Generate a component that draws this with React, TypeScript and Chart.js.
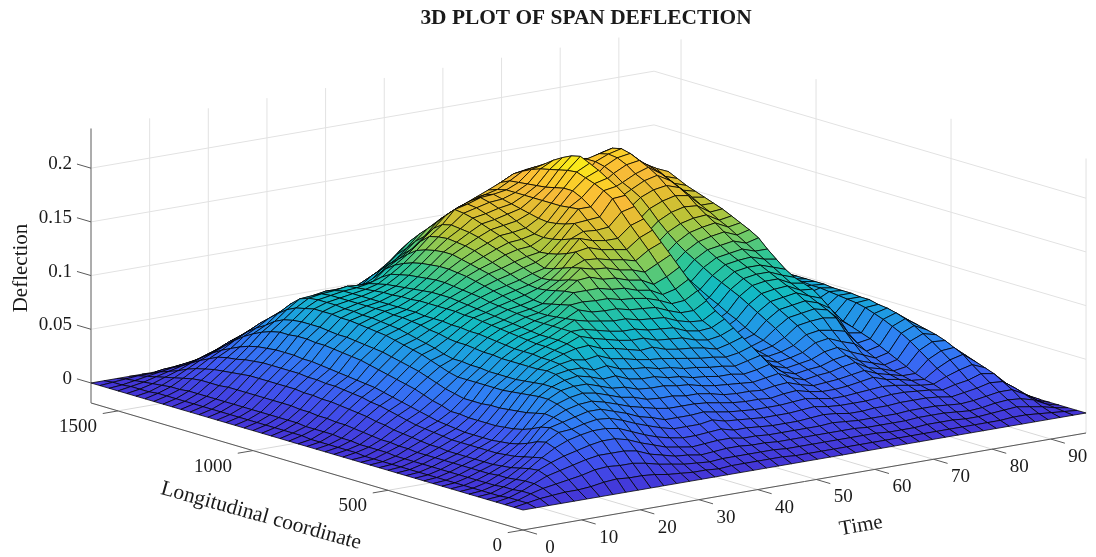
import React, { useEffect, useRef } from "react";
import { Chart, registerables } from "chart.js";
Chart.register(...registerables);

const titleText = "3D PLOT OF SPAN DEFLECTION";
const timeLabel = "Time";
const longLabel = "Longitudinal coordinate";
const zLabel = "Deflection";
const timeTicks = [0, 10, 20, 30, 40, 50, 60, 70, 80, 90];
const longTicks = [0, 500, 1000, 1500];
const zTicks = [0, 0.05, 0.1, 0.15, 0.2];
const zTickText = ["0", "0.05", "0.1", "0.15", "0.2"];
const timeMax = 96;
const longMax = 1600;
const zFloor = -0.0186;
const zTop = 0.237;

const timeGrid = [0,2.2,4.4,6.5,8.7,10.9,13.1,15.3,17.5,19.6,21.8,24,26.2,28.4,30.5,32.7,34.9,37.1,39.3,41.5,43.6,45.8,48,50.2,52.4,54.5,56.7,58.9,61.1,63.3,65.5,67.6,69.8,72,74.2,76.4,78.5,80.7,82.9,85.1,87.3,89.5,91.6,93.8,96];
const longGrid = [0,33,67,100,133,167,200,233,267,300,333,367,400,433,467,500,533,567,600,633,667,700,733,767,800,833,867,900,933,967,1000,1033,1067,1100,1133,1167,1200,1233,1267,1300,1333,1367,1400,1433,1467,1500,1533,1567,1600];

// deflection in thousandths; one row per time, one column per longitudinal coordinate
const deflection = [
[0,0,0,0,0,0,0,0,0,0,0,0,0,0,0,0,0,0,0,0,0,0,0,0,0,0,0,0,0,0,0,0,0,0,0,0,0,0,0,0,0,0,0,0,0,0,0,0,0],
[0,2,2,2,1,1,1,1,1,1,1,1,1,1,1,1,1,1,1,1,2,2,2,2,2,2,3,3,3,3,3,3,3,3,3,3,3,3,3,3,3,3,3,2,2,2,1,1,0],
[0,4,6,6,5,5,4,4,4,4,4,4,4,4,4,4,4,4,5,5,5,5,6,6,7,7,7,7,8,8,8,8,8,8,8,8,8,8,8,8,8,7,7,6,5,4,3,2,0],
[0,5,9,11,11,10,9,9,8,8,8,8,8,8,8,8,8,9,9,10,10,11,12,13,14,14,15,15,16,16,17,17,17,17,17,17,17,17,16,16,16,15,13,11,9,7,5,3,0],
[0,6,11,16,19,18,16,14,13,12,12,12,12,12,12,13,13,14,15,16,17,19,20,22,23,24,25,26,26,27,27,28,28,28,28,28,28,27,26,25,24,22,20,17,13,10,7,3,0],
[0,6,13,19,24,26,24,22,20,19,18,18,18,18,18,18,19,20,21,22,24,26,28,30,31,33,34,35,36,36,37,37,38,38,38,38,38,37,36,34,33,31,27,23,18,13,9,5,0],
[0,7,15,22,28,33,36,34,30,27,25,24,23,23,23,23,24,25,26,28,30,32,34,36,38,40,41,42,43,44,45,46,47,47,48,48,48,47,46,44,41,37,33,28,22,16,11,6,0],
[0,9,18,25,31,38,43,45,43,39,36,34,33,32,32,32,32,33,33,36,38,41,44,46,48,50,52,54,56,57,58,59,60,60,61,61,60,60,58,55,51,46,40,33,26,20,13,7,0],
[0,10,19,27,34,41,44,48,50,51,49,47,46,45,44,44,43,43,43,45,47,50,53,56,58,60,62,64,65,66,67,68,68,69,70,70,70,69,67,63,57,52,46,39,32,24,17,9,0],
[0,9,18,27,36,43,47,51,55,58,60,60,59,58,57,56,56,56,56,56,56,58,61,64,67,69,71,73,75,76,77,78,79,79,80,80,80,78,76,72,66,59,52,44,36,29,22,11,0],
[0,9,18,27,36,43,49,54,58,62,66,67,67,66,65,64,64,64,64,65,65,66,66,68,71,73,75,77,79,80,81,82,82,83,83,84,84,84,83,80,73,64,56,49,41,33,26,14,0],
[0,8,16,25,33,41,48,54,59,64,68,71,74,75,74,74,74,74,74,75,75,76,77,77,78,80,81,83,84,85,85,86,86,86,86,86,86,86,85,81,73,65,57,50,42,34,26,15,0],
[0,6,13,20,28,36,44,50,56,62,68,73,76,79,80,80,81,81,81,82,83,84,85,85,86,86,87,87,87,88,88,88,88,88,88,88,88,88,86,83,77,69,61,55,48,39,30,16,0],
[0,5,11,17,24,31,39,46,52,58,64,70,76,81,84,85,86,86,87,88,89,90,91,92,93,93,94,94,94,94,94,93,93,92,92,91,90,89,88,83,78,72,66,60,53,44,32,17,0],
[0,4,9,14,20,27,35,41,48,54,60,66,72,79,87,89,90,90,90,91,92,93,94,95,96,97,98,99,100,100,100,99,98,97,96,95,93,91,87,82,78,73,67,60,52,44,33,17,0],
[0,4,8,13,18,24,31,38,45,52,59,67,74,81,88,94,96,96,96,96,96,97,98,99,100,101,103,104,105,106,107,107,106,105,104,102,100,95,88,83,78,73,68,62,53,44,34,18,0],
[0,3,7,11,16,22,28,34,42,48,55,62,69,76,83,90,96,102,101,100,99,99,100,101,103,105,107,109,111,113,114,115,115,114,113,111,108,104,98,89,79,73,68,61,53,45,35,18,0],
[0,4,8,12,17,22,28,34,40,47,54,60,67,74,81,87,93,99,107,109,107,105,103,104,106,108,110,113,116,118,120,122,124,124,123,121,118,112,105,98,90,82,74,66,57,47,37,19,0],
[0,4,8,13,18,23,28,34,40,47,54,60,66,71,78,84,90,97,103,110,116,115,113,111,110,111,113,116,119,122,125,128,130,131,132,131,129,122,112,105,96,88,80,71,60,49,38,20,0],
[0,4,8,13,18,24,30,35,40,45,52,57,63,69,75,82,88,95,102,109,116,123,121,118,116,115,117,120,123,127,130,133,136,138,139,140,138,132,122,115,106,98,88,78,66,53,41,21,0],
[0,4,8,12,16,21,27,33,39,45,51,56,62,68,76,82,88,95,102,109,116,124,130,128,125,122,120,123,126,130,134,138,141,144,147,149,150,142,133,125,117,108,98,85,70,56,43,22,0],
[0,4,8,12,16,21,26,31,37,43,48,53,59,66,72,78,85,92,99,106,113,120,127,133,138,134,131,129,128,131,135,139,143,146,149,152,153,148,140,132,122,113,103,90,74,58,43,22,0],
[0,3,7,11,15,20,25,30,35,40,46,52,58,64,70,77,84,91,98,105,112,119,126,132,140,146,143,140,138,137,138,141,145,149,152,155,157,152,145,137,127,118,107,93,77,60,44,23,0],
[0,3,7,11,15,19,24,29,34,39,45,50,56,62,69,76,83,90,97,103,108,115,122,129,136,142,148,153,150,148,147,148,150,152,154,156,158,155,150,141,131,122,110,96,79,61,44,23,0],
[0,3,7,11,15,19,24,29,34,39,44,50,55,61,67,72,78,85,92,99,106,113,120,127,134,140,147,154,162,161,160,160,160,160,160,160,160,158,155,145,135,125,113,99,82,63,45,23,0],
[0,3,7,11,15,19,24,29,33,38,43,48,53,59,64,70,76,82,88,94,100,107,116,124,132,140,148,155,162,168,172,172,170,168,167,166,165,164,160,150,139,128,117,102,85,65,46,24,0],
[0,3,7,11,15,20,25,30,35,40,45,50,56,61,67,72,77,81,88,95,103,112,122,132,141,150,160,170,175,179,182,185,184,182,180,178,175,171,166,158,150,137,123,107,88,67,47,24,0],
[0,3,7,11,16,21,26,31,36,41,47,53,59,65,71,77,83,88,95,102,110,119,128,137,146,154,163,171,177,182,187,191,195,193,189,184,178,173,168,160,150,138,124,108,88,67,47,24,0],
[0,3,7,11,15,20,24,29,33,37,41,44,47,50,52,55,58,62,66,72,78,84,90,96,103,110,117,125,133,140,148,156,163,166,168,170,170,167,160,149,140,128,115,100,82,63,44,22,0],
[0,3,7,10,14,18,23,27,31,34,37,40,43,46,49,51,53,56,58,62,66,70,76,82,88,94,100,107,114,122,131,141,150,155,160,163,164,162,157,148,138,127,114,100,82,62,43,22,0],
[0,3,6,10,14,18,23,27,31,35,39,42,45,48,51,54,57,60,64,69,73,78,82,87,92,97,103,109,116,124,133,142,150,155,158,160,160,158,155,150,140,128,115,100,82,62,43,22,0],
[0,3,6,10,14,19,23,28,32,36,40,43,47,51,55,60,66,71,76,81,86,90,94,98,103,108,113,119,126,134,143,151,156,160,166,170,172,172,170,163,148,134,118,102,83,63,43,22,0],
[0,3,6,10,14,19,24,29,34,38,43,47,52,58,63,69,74,79,84,89,94,98,102,106,110,115,120,126,132,140,148,156,162,166,172,176,177,175,168,160,150,136,120,103,84,63,43,22,0],
[0,3,7,11,15,20,25,30,36,40,45,49,54,60,65,71,76,81,86,91,96,100,104,108,112,117,123,129,135,143,151,158,165,170,174,178,180,178,172,162,150,136,120,103,84,63,43,22,0],
[0,3,7,11,15,20,25,29,32,35,38,42,48,55,63,72,78,83,88,92,96,100,104,109,114,119,125,131,136,142,149,154,158,162,165,167,168,167,163,154,143,130,115,99,81,61,42,21,0],
[0,3,7,11,15,20,24,27,30,32,35,38,43,51,60,70,75,79,83,86,90,95,100,105,110,115,120,125,129,134,138,143,147,151,155,160,160,158,152,143,133,121,107,92,76,57,39,20,0],
[0,3,6,10,14,19,23,25,27,29,31,34,38,42,47,54,64,72,79,85,88,91,96,103,110,118,123,127,131,135,138,141,144,147,151,155,152,148,142,133,123,112,99,85,70,53,36,18,0],
[0,3,6,9,13,17,21,24,26,29,33,37,41,45,49,52,55,58,62,66,70,74,78,79,80,82,84,86,88,90,95,98,101,104,107,109,110,108,103,96,88,80,70,60,49,37,25,13,0],
[0,3,7,10,14,19,24,29,34,40,46,52,57,61,65,68,71,73,74,75,76,77,77,78,78,79,80,81,82,84,85,86,86,87,87,87,85,82,78,73,68,64,60,50,40,30,20,10,0],
[0,4,8,12,16,21,26,33,40,46,52,57,62,66,69,71,72,74,74,75,75,75,76,76,76,76,76,76,76,75,75,75,75,75,74,73,72,69,66,62,58,54,50,43,36,29,22,11,0],
[0,4,9,13,18,24,30,36,43,47,51,54,56,58,60,61,62,62,63,63,63,63,63,62,62,62,62,61,61,60,60,59,58,57,56,54,52,50,48,45,42,36,31,26,21,18,15,8,0],
[0,3,7,12,18,23,28,31,34,37,39,41,42,43,44,45,45,46,46,46,46,46,46,45,45,45,44,44,43,43,42,41,40,39,38,37,36,34,33,32,30,27,24,21,17,13,10,5,0],
[0,2,5,9,12,15,17,19,20,22,23,24,25,26,26,27,27,27,28,28,28,28,28,28,27,27,27,26,26,26,25,25,24,23,22,21,20,19,18,17,16,14,12,10,8,6,4,2,0],
[0,1,2,3,4,6,7,8,8,9,9,10,10,11,11,11,12,12,12,12,12,12,12,12,12,11,11,11,11,11,10,10,10,9,9,9,8,8,7,7,6,6,5,4,3,3,2,1,0],
[0,0,0,0,0,0,0,0,0,0,0,0,0,0,0,0,0,0,0,0,0,0,0,0,0,0,0,0,0,0,0,0,0,0,0,0,0,0,0,0,0,0,0,0,0,0,0,0,0],
];

// colour ramp: deflection (thousandths) and RGB
const rampStops = [0, 25, 48, 70, 88, 106, 121, 136, 152, 168, 182, 195];
const rampColors = [
  [68, 52, 214], [64, 84, 240], [48, 125, 245], [30, 158, 226], [18, 186, 196],
  [45, 197, 150], [120, 203, 98], [185, 196, 55], [225, 190, 50], [250, 186, 56], [250, 215, 36], [250, 250, 20],
];

function colorFor(v: number): string {
  let k = 0;
  while (k < rampStops.length - 2 && v > rampStops[k + 1]) k++;
  const f = Math.max(0, Math.min(1, (v - rampStops[k]) / (rampStops[k + 1] - rampStops[k])));
  const c = rampColors[k].map((a, n) => Math.round(a + (rampColors[k + 1][n] - a) * f));
  return `rgb(${c[0]},${c[1]},${c[2]})`;
}

function project(t: number, l: number, z: number) {
  return {
    x: 523 + 5.865 * t - 0.27 * l,
    y: 530 - 1.0104 * t - 0.0794 * l - 1074 * (z - zFloor),
  };
}

const GRID = "#e2e2e2";
const AXIS = "#5a5a5a";

function seg(a: { x: number; y: number }, b: { x: number; y: number }, color: string, width = 1) {
  return {
    data: [a, b], showLine: true, fill: false, borderColor: color, borderWidth: width,
    pointRadius: 0, clip: false,
  };
}

function buildDatasets() {
  const under: any[] = [];
  for (const z of zTicks) {
    under.push(seg(project(0, longMax, z), project(timeMax, longMax, z), GRID));
    under.push(seg(project(timeMax, longMax, z), project(timeMax, 0, z), GRID));
  }
  for (const t of timeTicks) {
    under.push(seg(project(t, longMax, zFloor), project(t, longMax, zTop), GRID));
    under.push(seg(project(t, 0, zFloor), project(t, longMax, zFloor), "#d8d8d8"));
  }
  for (const l of longTicks) {
    under.push(seg(project(timeMax, l, zFloor), project(timeMax, l, zTop), GRID));
    under.push(seg(project(0, l, zFloor), project(timeMax, l, zFloor), "#d8d8d8"));
  }
  // axes and tick marks
  under.push(seg(project(0, 0, zFloor), project(timeMax, 0, zFloor), AXIS));
  under.push(seg(project(0, 0, zFloor), project(0, longMax, zFloor), AXIS));
  under.push(seg(project(0, longMax, zFloor), project(0, longMax, zTop), "#808080", 1.2));
  for (const t of timeTicks) under.push(seg(project(t, 0, zFloor), project(t, -52, zFloor), AXIS));
  for (const l of longTicks) under.push(seg(project(0, l, zFloor), project(-2.6, l, zFloor), AXIS));
  for (const z of zTicks) under.push(seg(project(0, longMax, z), project(0, longMax + 52, z), AXIS));

  const quads: any[] = [];
  for (let i = timeGrid.length - 2; i >= 0; i--) {
    for (let j = longGrid.length - 2; j >= 0; j--) {
      const v = [deflection[i][j], deflection[i + 1][j], deflection[i + 1][j + 1], deflection[i][j + 1]];
      const a = project(timeGrid[i], longGrid[j], v[0] / 1000);
      const b = project(timeGrid[i + 1], longGrid[j], v[1] / 1000);
      const c = project(timeGrid[i + 1], longGrid[j + 1], v[2] / 1000);
      const d = project(timeGrid[i], longGrid[j + 1], v[3] / 1000);
      quads.push({
        data: [a, b, c, d, a], showLine: true, fill: "shape",
        backgroundColor: colorFor((v[0] + v[1] + v[2] + v[3]) / 4),
        borderColor: "rgba(0,0,0,0.85)", borderWidth: 0.9, borderJoinStyle: "round",
        pointRadius: 0, clip: false, tension: 0,
      });
    }
  }
  // Chart.js paints the first dataset last
  return [...under, ...quads].reverse();
}

const textPlugin = {
  id: "labels3d",
  afterDraw(chart: any) {
    const ctx = chart.ctx;
    const sx = chart.scales.x;
    const sy = chart.scales.y;
    const put = (s: string, x: number, y: number, font: string, align: CanvasTextAlign, rot = 0) => {
      ctx.save();
      ctx.translate(sx.getPixelForValue(x), sy.getPixelForValue(y));
      ctx.rotate(rot);
      ctx.font = font;
      ctx.fillStyle = "#1a1a1a";
      ctx.textAlign = align;
      ctx.textBaseline = "middle";
      ctx.fillText(s, 0, 0);
      ctx.restore();
    };
    const serif = '"Liberation Serif"';
    const tickFont = `19px ${serif}`;
    const labelFont = `21px ${serif}`;
    put(titleText, 586, 18, `bold 21.4px ${serif}`, "center");
    timeTicks.forEach((t) => {
      const p = project(t, 0, zFloor);
      put(String(t), p.x + 27, p.y + 18, tickFont, "center");
    });
    longTicks.forEach((l) => {
      const p = project(0, l, zFloor);
      put(String(l), p.x - 21, p.y + 16, tickFont, "right");
    });
    zTicks.forEach((z, k) => {
      const p = project(0, longMax, z);
      put(zTickText[k], p.x - 19, p.y - 4, tickFont, "right");
    });
    put(longLabel, 261, 516, `21.5px ${serif}`, "center", (15.5 * Math.PI) / 180);
    put(timeLabel, 861, 526, labelFont, "center", (-10 * Math.PI) / 180);
    put(zLabel, 21, 268, labelFont, "center", -Math.PI / 2);
  },
};

export default function App() {
  const ref = useRef<HTMLCanvasElement>(null);
  useEffect(() => {
    const chart = new Chart(ref.current as HTMLCanvasElement, {
      type: "scatter",
      data: { datasets: buildDatasets() },
      plugins: [textPlugin],
      options: {
        animation: false,
        responsive: false,
        events: [],
        layout: { padding: 0 },
        plugins: { legend: { display: false }, tooltip: { enabled: false }, title: { display: false } },
        scales: {
          x: { type: "linear", min: 0, max: 1096, display: false },
          y: { type: "linear", min: 0, max: 557, reverse: true, display: false },
        },
      },
    } as any);
    return () => chart.destroy();
  }, []);
  return (
    <div style={{ position: "fixed", left: 0, top: 0, width: 1096, height: 557, background: "#fff" }}>
      <canvas ref={ref} width={1096} height={557} style={{ display: "block" }} />
    </div>
  );
}
